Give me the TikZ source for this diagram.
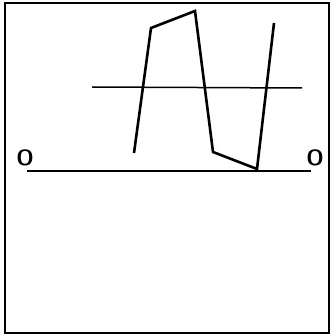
\documentclass[tikz,border=0pt]{standalone}
\newcommand{\bigo}{\scalebox{2.2}{\sffamily\bfseries O}}
\begin{document}
\begin{tikzpicture}[x=1pt, y=-1pt, line join=miter,
    lbl/.style={inner sep=0pt}]
    \useasboundingbox (0,0) rectangle (332,336);
    % cornice
    \draw[line width=1.4pt] (5,3) rectangle (329,333);
    \draw[line width=2.6pt] (5,3) -- (5,333);
    % asse O--O
    \node[lbl] (oa) at (25,158) {\bigo};
    \node[lbl] (ob) at (315,158) {\bigo};
    \coordinate (ba) at (27,171);
    \coordinate (bb) at (311,171);
    \draw[line width=1.5pt] (ba) -- (bb);
    % linea media
    \coordinate (ma) at (92,87);
    \coordinate (mb) at (302,88);
    \draw[line width=1.5pt] (ma) -- (mb);
    % curva
    \draw[line width=2.6pt] (134,153) -- (151,28) -- (195,11) -- (213,152)
        -- (257,169) -- (274,23);
\end{tikzpicture}
\end{document}
